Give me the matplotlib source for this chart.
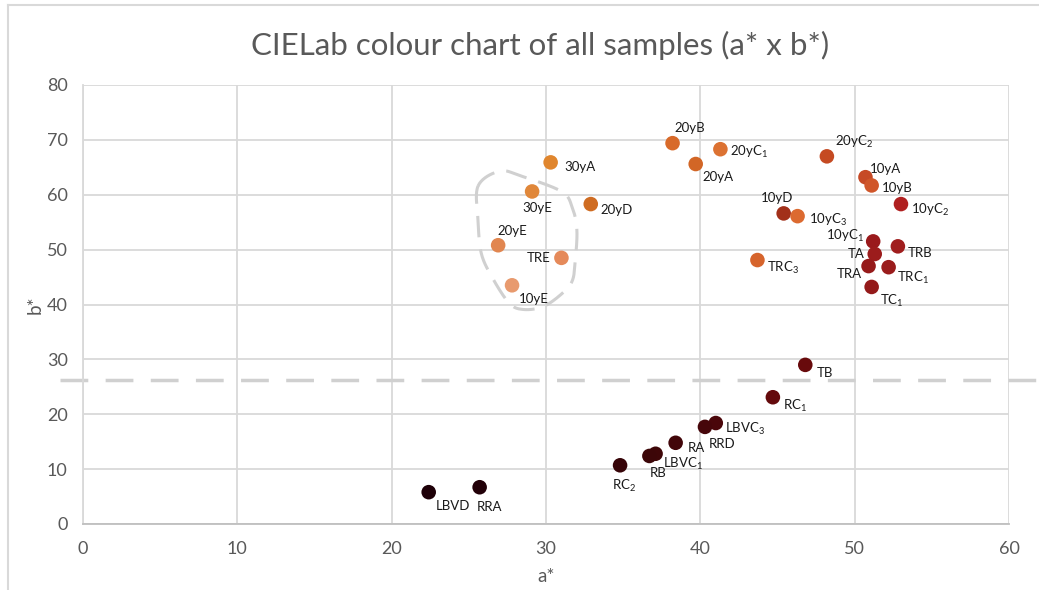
import numpy as np
import matplotlib
matplotlib.use('Agg')
import matplotlib.pyplot as plt
from matplotlib.lines import Line2D

plt.rcParams['font.family'] = ['Lato', 'DejaVu Sans']
plt.rcParams['mathtext.default'] = 'regular'

# sample names (with subscripts) and CIELab coordinates
labels = ["30yA", "30yE", "20yD", "20yE", "TRE", "10yE",
          "20yB", "20yC$_1$", "20yA", "20yC$_2$", "10yA", "10yB",
          "10yD", "10yC$_3$", "10yC$_2$", "10yC$_1$", "TA", "TRB",
          "TRA", "TRC$_1$", "TC$_1$", "TRC$_3$", "TB", "RC$_1$",
          "LBVC$_3$", "RRD", "RA", "LBVC$_1$", "RB", "RC$_2$",
          "LBVD", "RRA"]
a_star = [30.3, 29.1, 32.9, 26.9, 31.0, 27.8,
          38.2, 41.3, 39.7, 48.2, 50.7, 51.1,
          45.4, 46.3, 53.0, 51.2, 51.3, 52.8,
          50.9, 52.2, 51.1, 43.7, 46.8, 44.7,
          41.0, 40.3, 38.4, 37.1, 36.7, 34.8,
          22.4, 25.7]
b_star = [65.9, 60.6, 58.3, 50.8, 48.5, 43.5,
          69.4, 68.3, 65.6, 67.0, 63.2, 61.7,
          56.6, 56.1, 58.3, 51.5, 49.2, 50.6,
          47.0, 46.8, 43.2, 48.1, 29.0, 23.1,
          18.4, 17.7, 14.8, 12.8, 12.4, 10.7,
          5.8, 6.7]

# marker colour of each sample (approximate sample colour)
colors = ["#E0862E", "#E0873A", "#CF6C22", "#E18650", "#E58A5A", "#E89A6E",
          "#D86A2A", "#DC7232", "#D26626", "#C54A22", "#C64A26", "#D0562A",
          "#A2301A", "#DC6A30", "#B02020", "#9A1A1C", "#9C1C1C", "#A01E1E",
          "#961A1A", "#9A1C1C", "#941A1A", "#D6642C", "#680A0C", "#640A0C",
          "#4A060A", "#46060A", "#42060A", "#3E0608", "#3C0608", "#360408",
          "#1E0008", "#220008"]

# label offsets (points) and alignment
offsets = [(10, -3, 'left', 'center'), (4, -12, 'center', 'center'),
           (7, -4, 'left', 'center'), (10, 10, 'center', 'center'),
           (-8, 0, 'right', 'center'), (5, -10, 'left', 'center'),
           (1, 11, 'left', 'center'), (7, -2, 'left', 'center'),
           (5, -9, 'left', 'center'), (6, 10, 'left', 'center'),
           (3, 6, 'left', 'center'), (7, -2, 'left', 'center'),
           (-5, 11, 'center', 'center'), (8, -3, 'left', 'center'),
           (7, -4, 'left', 'center'), (-7, 4, 'right', 'center'),
           (-7, 0, 'right', 'center'), (7, -5, 'left', 'center'),
           (-5, -6, 'right', 'center'), (6, -8, 'left', 'center'),
           (6, -10, 'left', 'center'), (7, -6, 'left', 'center'),
           (8, -6, 'left', 'center'), (7, -6, 'left', 'center'),
           (7, -4, 'left', 'center'), (3, -12, 'left', 'center'),
           (9, -4, 'left', 'center'), (5, -7, 'left', 'center'),
           (0, -12, 'left', 'center'), (3, -15, 'center', 'center'),
           (5, -10, 'left', 'center'), (-2, -14, 'left', 'center')]

# hand-drawn outline around the E samples
loop_a = [25.6, 27.0, 28.4, 31.0, 31.7, 32.0, 31.9, 31.7, 31.0, 29.8, 28.5, 27.6, 26.5, 25.8, 25.6]
loop_b = [61.6, 64.3, 63.4, 60.6, 57.7, 53.6, 48.1, 44.3, 41.9, 39.6, 39.1, 40.3, 45.0, 49.4, 55.4]
threshold_b = 26.2


def catmull_rom_closed(xs, ys, n=20):
    pts = np.array(list(zip(xs, ys)))
    m = len(pts)
    out = []
    for i in range(m):
        p0, p1, p2, p3 = pts[i - 1], pts[i], pts[(i + 1) % m], pts[(i + 2) % m]
        for t in np.linspace(0, 1, n, endpoint=False):
            t2, t3 = t * t, t * t * t
            out.append(0.5 * ((2 * p1) + (-p0 + p2) * t +
                              (2 * p0 - 5 * p1 + 4 * p2 - p3) * t2 +
                              (-p0 + 3 * p1 - 3 * p2 + p3) * t3))
    out.append(out[0])
    out = np.array(out)
    return out[:, 0], out[:, 1]


fig = plt.figure(figsize=(10.39, 5.90), dpi=100)
ax = fig.add_axes([83 / 1039, 1 - 524 / 590, (1009 - 83) / 1039, (524 - 85) / 590])

grid_c = '#D9D9D9'
ax.set_xlim(0, 60)
ax.set_ylim(0, 80)
ax.set_xticks(range(0, 61, 10))
ax.set_yticks(range(0, 81, 10))
ax.grid(True, color=grid_c, linewidth=1.3)
ax.set_axisbelow(True)
for side in ['top', 'right']:
    ax.spines[side].set_visible(False)
ax.spines['left'].set_color(grid_c)
ax.spines['left'].set_linewidth(1.3)
ax.spines['bottom'].set_color('#BFBFBF')
ax.spines['bottom'].set_linewidth(1.3)
ax.tick_params(length=0, labelsize=13, labelcolor='#595959')
ax.tick_params(axis='x', pad=12)
ax.tick_params(axis='y', pad=11)

ax.set_xlabel('a*', fontsize=13.5, color='#595959', labelpad=8)
ax.set_ylabel('b*', fontsize=13.5, color='#595959', labelpad=2)
fig.text(540 / 1039, 1 - 45 / 590, 'CIELab colour chart of all samples (a* x b*)',
         ha='center', va='center', fontsize=22.5, color='#595959')

# dashed threshold line and outline
ax.axhline(threshold_b, xmin=-0.025, xmax=1.04, color='#D0D0D0', linewidth=2.5,
           dashes=(8, 5), clip_on=False, zorder=1)
lx, ly = catmull_rom_closed(loop_a, loop_b)
ax.plot(lx, ly, color='#D0D0D0', linewidth=2.2, dashes=(7, 4), zorder=1)

ax.scatter(a_star, b_star, s=110, c=colors, edgecolors='none', zorder=3)
for lab, x, y, (dx, dy, ha, va) in zip(labels, a_star, b_star, offsets):
    ax.annotate(lab, (x, y), xytext=(dx, dy), textcoords='offset points',
                ha=ha, va=va, fontsize=9.5, color='#1A1A1A', zorder=4)

# chart area border (top and left edges visible)
fig.add_artist(Line2D([8 / 1039, 8 / 1039], [0, 1 - 5 / 590], transform=fig.transFigure,
                      color='#D9D9D9', linewidth=1.5))
fig.add_artist(Line2D([8 / 1039, 1], [1 - 5 / 590, 1 - 5 / 590], transform=fig.transFigure,
                      color='#D9D9D9', linewidth=1.5))

fig.savefig('out.png', dpi=100)
